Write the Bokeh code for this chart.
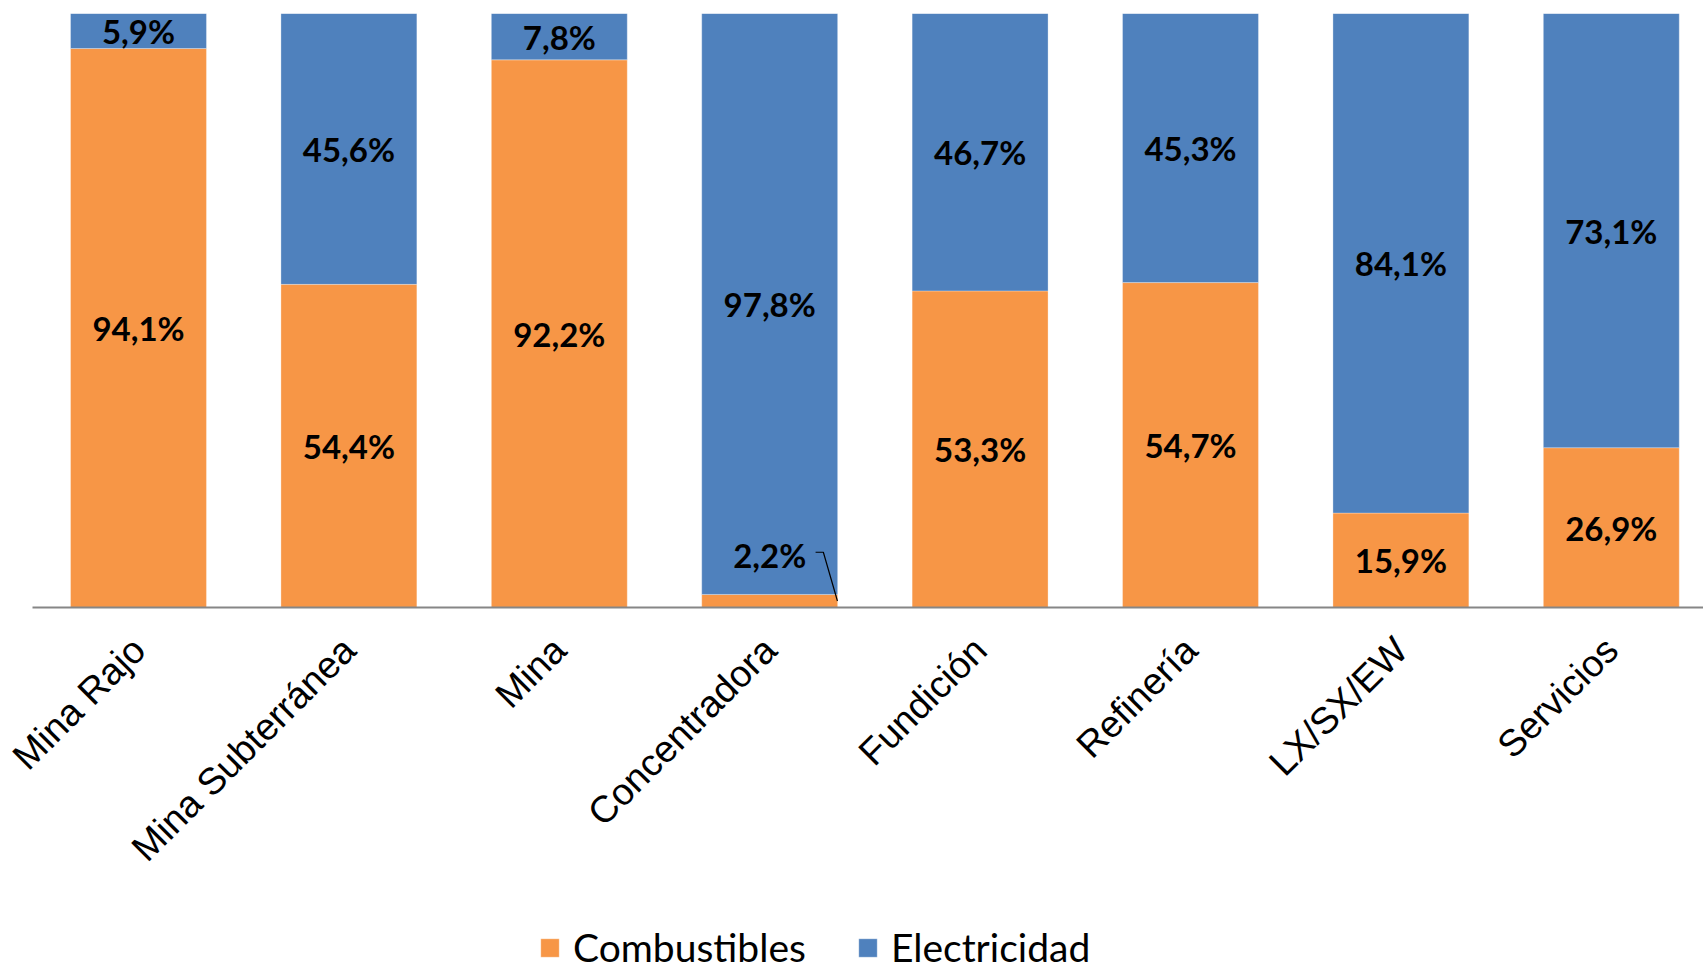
from bokeh.plotting import figure
from bokeh.models import Range1d, FixedTicker, Legend, LegendItem, ColumnDataSource, LinearAxis
from bokeh.core.properties import value
from bokeh.embed import file_html
from bokeh.resources import INLINE
import math

categories = ["Mina Rajo", "Mina Subterránea", "Mina", "Concentradora",
              "Fundición", "Refinería", "LX/SX/EW", "Servicios"]
combustibles = [94.1, 54.4, 92.2, 2.2, 53.3, 54.7, 15.9, 26.9]
electricidad = [5.9, 45.6, 7.8, 97.8, 46.7, 45.3, 84.1, 73.1]

ORANGE = "#F79646"
BLUE = "#4F81BD"

x = [i + 0.5 for i in range(len(categories))]

W, H = 1703, 969
top = 13
axis_left_px = 32
axis_y_px = 607
cat_px = 210.4
x0 = 0.5 - 138 / cat_px
x1 = x0 + W / cat_px
px_per_unit = (axis_y_px - top) / 100.0
y0 = -(H - axis_y_px) / px_per_unit

p = figure(width=W, height=H, output_backend="svg", toolbar_location=None,
           x_range=Range1d(x0, x1), y_range=Range1d(y0, 100),
           x_axis_location=None, y_axis_location=None,
           min_border_left=0, min_border_right=0,
           min_border_top=top, min_border_bottom=0)
p.outline_line_color = None
p.xgrid.visible = False
p.ygrid.visible = False
p.background_fill_color = "white"

src = ColumnDataSource(dict(x=x, Combustibles=combustibles, Electricidad=electricidad))
rs = p.vbar_stack(["Combustibles", "Electricidad"], x="x", width=0.646,
                  color=[ORANGE, BLUE], line_color="white", line_width=0.5,
                  line_alpha=0.6, source=src)

# data labels
def fmt(v):
    return f"{v:.1f}".replace(".", ",") + "%"

lx, ly, lt = [], [], []
for xi, c, e in zip(x, combustibles, electricidad):
    lx.append(xi)
    ly.append(c / 2 if c >= 5 else c + 6.6)
    lt.append(fmt(c))
    lx.append(xi)
    ly.append(c + e / 2)
    lt.append(fmt(e))
p.text(x=lx, y=ly, text=lt, text_font=value("Lato"), text_font_style="bold",
       text_font_size="33px", text_color="black", text_align="center",
       text_baseline="middle")

# leader line for small label
for xi, c in zip(x, combustibles):
    if c < 5:
        p.line([xi + 0.218, xi + 0.255, xi + 0.322],
               [c + 7.1, c + 7.1, c / 2], line_color="black", line_width=1.2)

ax = LinearAxis(fixed_location=0, bounds=(x0 + axis_left_px / cat_px, x1))
ax.ticker = FixedTicker(ticks=x)
ax.major_label_overrides = {xi: c for xi, c in zip(x, categories)}
ax.major_label_orientation = math.pi / 4
ax.major_label_text_font = "Liberation Sans"
ax.major_label_text_font_size = "37.5px"
ax.major_label_text_color = "black"
ax.major_label_standoff = 30
ax.axis_line_color = "#868686"
ax.axis_line_width = 2
ax.major_tick_line_color = None
ax.minor_tick_line_color = None
p.add_layout(ax, "below")

legend = Legend(items=[LegendItem(label="Combustibles", renderers=[rs[0]]),
                       LegendItem(label="Electricidad", renderers=[rs[1]])],
                orientation="horizontal", location=(538, -1),
                glyph_width=23, glyph_height=23, label_standoff=12, spacing=50,
                padding=0, margin=0, border_line_color=None,
                background_fill_alpha=0,
                label_text_font="Lato", label_text_font_size="39px",
                label_text_color="black")
p.add_layout(legend)

open("out.html", "w").write(file_html(p, INLINE))
